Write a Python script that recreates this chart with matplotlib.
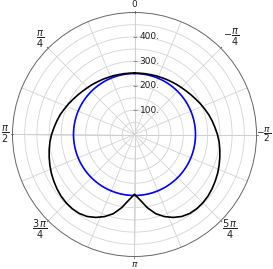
import numpy as np
import matplotlib
matplotlib.use('Agg')
import matplotlib.pyplot as plt
from matplotlib.transforms import offset_copy

# ---- data ----
angle_step_deg = 5
angles_half_deg = np.arange(0, 181, angle_step_deg)
r_black_half = [252, 252, 253, 254, 256, 258, 261, 264, 268, 272,
                277, 283, 290, 298, 306, 315, 323, 331, 340,
                348, 355, 362, 369, 376, 382, 388, 393, 396,
                397, 395, 388, 375, 358, 336, 305, 270, 245]
blue_radius = 250
r_ticks = [100, 200, 300, 400]
r_tick_labels = ['100.', '200.', '300.', '400.']
theta_label_pos = [0, 45, 90, 135, 180, 225, 270, 315]
theta_labels = ['0', r'$\dfrac{\pi}{4}$', r'$\dfrac{\pi}{2}$', r'$\dfrac{3\,\pi}{4}$',
                r'$\pi$', r'$\dfrac{5\,\pi}{4}$', r'$-\dfrac{\pi}{2}$', r'$-\dfrac{\pi}{4}$']
r_max = 500

# symmetric pattern: mirror the read half
angles_full = np.deg2rad(np.concatenate([angles_half_deg, 360 - angles_half_deg[-2::-1]]))
r_black = np.array(r_black_half + r_black_half[-2::-1], dtype=float)

fig = plt.figure(figsize=(2.73, 2.69), dpi=100)
W, H = 273, 269
cx, cy, R = 134.5, 134.5, 122
ax = fig.add_axes([(cx - R) / W, (H - cy - R) / H, 2 * R / W, 2 * R / H], projection='polar')
ax.set_theta_zero_location('N')
ax.set_theta_direction(1)
ax.set_ylim(0, r_max)

ax.set_rgrids(np.arange(50, r_max, 50), labels=[])
ax.set_thetagrids(np.arange(0, 360, 22.5), labels=[])
ax.grid(True, color='#d4d4d4', lw=0.6)
ax.spines['polar'].set_color('#666666')
ax.spines['polar'].set_linewidth(0.7)
ax.tick_params(length=0)

# axes through centre
for a in [0, np.pi / 2, np.pi, 3 * np.pi / 2]:
    ax.plot([a, a], [0, r_max], color='#b0b0b0', lw=0.6, zorder=1)

# outer ticks
for a in theta_label_pos:
    t = np.deg2rad(a)
    ax.plot([t, t], [r_max, r_max + 6], color='#666666', lw=0.6, clip_on=False)

# curves
th_c = np.linspace(0, 2 * np.pi, 361)
ax.plot(th_c, np.full_like(th_c, blue_radius), color='#0000ff', lw=1.2, zorder=3)
ax.plot(angles_full, r_black, color='black', lw=1.2, zorder=4)

# radial labels
tr = offset_copy(ax.transData, fig=fig, x=5, y=0, units='dots')
for r, lab in zip(r_ticks, r_tick_labels):
    ax.text(0, r, lab, transform=tr, ha='left', va='center', fontsize=6.5, color='#222222')
    ax.plot(0, r, marker='_', ms=3, color='#888888', mew=0.6)

# angle labels
for a, lab in zip(theta_label_pos, theta_labels):
    fs = 7
    if a % 90:
        rr = 550 + (12 if lab.startswith(r'$-') else 0)
    elif a == 270:
        rr = 530
        fs = 6.5
    else:
        rr = 532
    if 'frac' not in lab:
        fs = 6.5
    ax.text(np.deg2rad(a), rr, lab, ha='center', va='center', fontsize=fs, clip_on=False, color='#222222')

fig.savefig('out.png', dpi=100)
